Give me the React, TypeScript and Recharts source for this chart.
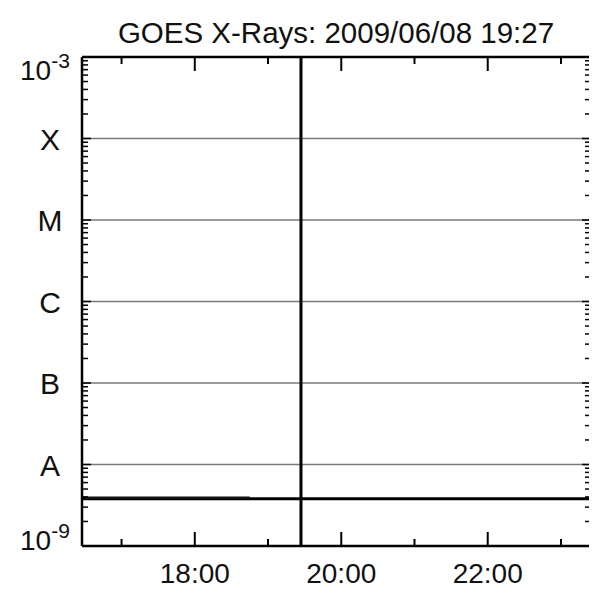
import { ComposedChart, Line, XAxis, YAxis, ReferenceLine } from 'recharts'

const title = 'GOES X-Rays: 2009/06/08 19:27'

// time in decimal hours (UT), flux in W/m^2
const hours = [16.46, 17.5, 18.75, 19.45, 21, 23.41]
const longFlux = [3.8e-9, 3.8e-9, 3.8e-9, 3.8e-9, 3.8e-9, 3.8e-9]
const shortFlux = [3.9e-9, 3.9e-9, 3.9e-9, null, null, null]

const timeDomain = [16.46, 23.41]
const hourTicks = [17, 18, 19, 20, 21, 22, 23]
const labelledHours = [18, 20, 22]
const nowHour = 19.45

const decades = [1e-9, 1e-8, 1e-7, 1e-6, 1e-5, 1e-4, 1e-3]
const flareClasses = ['A', 'B', 'C', 'M', 'X']

const FONT = '"Liberation Sans", Arial, Helvetica, sans-serif'

const data = hours.map((t, i) => ({ t, long: longFlux[i], short: shortFlux[i] }))

const yTicks = decades.flatMap((d, i) =>
  i < decades.length - 1 ? [1, 2, 3, 4, 5, 6, 7, 8, 9].map(m => d * m) : [d]
)

const decadeIndex = (v: number) => {
  const e = Math.log10(v)
  if (Math.abs(e - Math.round(e)) > 1e-6) return -1
  return decades.findIndex(d => Math.round(Math.log10(d)) === Math.round(e))
}

const fmtHour = (h: number) => `${String(h).padStart(2, '0')}:00`

const LeftTick = ({ x, y, payload }: any) => {
  const i = decadeIndex(payload.value)
  const major = i >= 0
  let label = null
  if (major) {
    if (i === 0 || i === decades.length - 1) {
      const e = Math.round(Math.log10(payload.value))
      label = (
        <text x={x - 62} y={y + (i === 0 ? 4 : 23)} fontSize={28} fill="#111" fontFamily={FONT}>
          <tspan>10</tspan>
          <tspan dy={-12} fontSize={21}>{e}</tspan>
        </text>
      )
    } else {
      label = (
        <text x={x - 32} y={y + 11} fontSize={30} fill="#111" textAnchor="middle" fontFamily={FONT}>
          {flareClasses[i - 1]}
        </text>
      )
    }
  }
  return (
    <g>
      <line x1={x} x2={x + (major ? 9 : 6)} y1={y} y2={y} stroke="#000" strokeWidth={1.5} />
      {label}
    </g>
  )
}

const RightTick = ({ x, y, payload }: any) => {
  const major = decadeIndex(payload.value) >= 0
  return <line x1={x} x2={x - (major ? 9 : 6)} y1={y} y2={y} stroke="#000" strokeWidth={1.5} />
}

const BottomTick = ({ x, y, payload }: any) => {
  const major = labelledHours.includes(payload.value)
  return (
    <g>
      <line x1={x} x2={x} y1={y} y2={y - (major ? 14 : 7)} stroke="#000" strokeWidth={2} />
      {major && (
        <text x={x} y={y + 37} fontSize={28} fill="#111" textAnchor="middle" fontFamily={FONT}>
          {fmtHour(payload.value)}
        </text>
      )}
    </g>
  )
}

const TopTick = ({ x, y, payload }: any) => {
  const major = labelledHours.includes(payload.value)
  return <line x1={x} x2={x} y1={y} y2={y + (major ? 14 : 7)} stroke="#000" strokeWidth={2} />
}

const axisLine = { stroke: '#000', strokeWidth: 2.5 }

export default function App() {
  return (
    <div style={{ position: 'relative', width: 597, height: 600, margin: -8, background: '#fff' }}>
      <div style={{
        position: 'absolute', left: 5, top: 0, width: 592, height: 600,
        borderTop: '3px solid #e4e4e4', borderLeft: '1px solid #f0f0f0', boxSizing: 'border-box',
      }} />
      <ComposedChart width={597} height={600} data={data} margin={{ top: 0, right: 0, bottom: 0, left: 0 }}>
        <XAxis
          xAxisId="bottom" dataKey="t" type="number" domain={timeDomain} allowDataOverflow
          ticks={hourTicks} interval={0} tick={BottomTick} tickLine={false} tickSize={0} tickMargin={0}
          height={54} axisLine={axisLine}
        />
        <XAxis
          xAxisId="top" orientation="top" dataKey="t" type="number" domain={timeDomain} allowDataOverflow
          ticks={hourTicks} interval={0} tick={TopTick} tickLine={false} tickSize={0} tickMargin={0}
          height={57} axisLine={axisLine}
        />
        <YAxis
          yAxisId="left" scale="log" type="number" domain={[1e-9, 1e-3]} allowDataOverflow
          ticks={yTicks} interval={0} tick={LeftTick} tickLine={false} tickSize={0} tickMargin={0}
          width={82} axisLine={axisLine}
        />
        <YAxis
          yAxisId="right" orientation="right" scale="log" type="number" domain={[1e-9, 1e-3]} allowDataOverflow
          ticks={yTicks} interval={0} tick={RightTick} tickLine={false} tickSize={0} tickMargin={0}
          width={6} axisLine={axisLine}
        />
        {decades.slice(1, decades.length - 1).map(v => (
          <ReferenceLine key={v} y={v} xAxisId="bottom" yAxisId="left" stroke="#7a7a7a" strokeWidth={1.5} />
        ))}
        <Line
          xAxisId="bottom" yAxisId="left" dataKey="long" type="linear" dot={false}
          stroke="#000" strokeWidth={3} isAnimationActive={false}
        />
        <Line
          xAxisId="bottom" yAxisId="left" dataKey="short" type="linear" dot={false}
          stroke="#111" strokeWidth={2.5} isAnimationActive={false}
        />
        <ReferenceLine x={nowHour} xAxisId="bottom" yAxisId="left" stroke="#000" strokeWidth={3} />
      </ComposedChart>
      <svg width={597} height={60} style={{ position: 'absolute', left: 0, top: 0, pointerEvents: 'none' }}>
        <text x={336} y={43} fontSize={29.5} fill="#111" textAnchor="middle" fontFamily={FONT}>{title}</text>
      </svg>
    </div>
  )
}
